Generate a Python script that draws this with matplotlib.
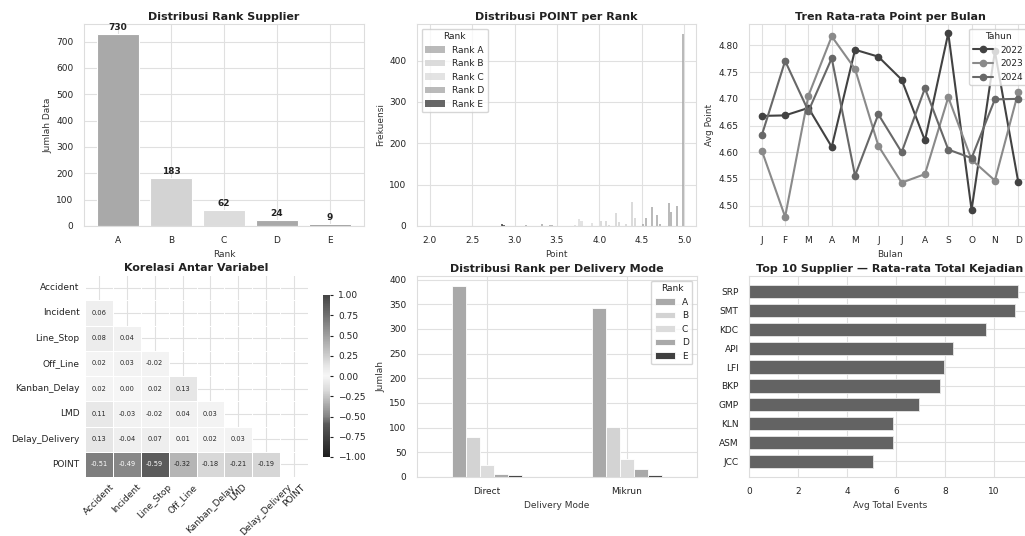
import numpy as np
import pandas as pd
import matplotlib
matplotlib.use('Agg')
import matplotlib.pyplot as plt
import seaborn as sns
from matplotlib.colors import LinearSegmentedColormap

# ---------------- data ----------------
ranks = ['A', 'B', 'C', 'D', 'E']
rank_counts = [730, 183, 62, 24, 9]

# histogram bars (Point value, frequency) per rank
hist_A_x = [4.51, 4.55, 4.62, 4.685, 4.72, 4.82, 4.85, 4.92, 4.99]
hist_A_n = [5, 20, 45, 27, 4, 56, 34, 49, 465]
hist_B_x = [4.02, 4.08, 4.11, 4.20, 4.23, 4.32, 4.385, 4.415]
hist_B_n = [12, 12, 3, 32, 10, 5, 58, 20]
hist_C_x = [3.71, 3.76, 3.79, 3.91]
hist_C_n = [2, 16, 11, 8]
hist_D_x = [3.13, 3.32, 3.42, 3.44]
hist_D_n = [3, 4, 2, 2]
hist_E_x = [2.85, 2.87]
hist_E_n = [4, 3]

months = ['J', 'F', 'M', 'A', 'M', 'J', 'J', 'A', 'S', 'O', 'N', 'D']
avg_2022 = [4.668, 4.669, 4.683, 4.610, 4.792, 4.779, 4.736, 4.622, 4.823, 4.492, 4.789, 4.545]
avg_2023 = [4.603, 4.479, 4.706, 4.817, 4.756, 4.612, 4.543, 4.559, 4.703, 4.586, 4.547, 4.712]
avg_2024 = [4.632, 4.771, 4.677, 4.776, 4.556, 4.671, 4.600, 4.720, 4.605, 4.589, 4.699, 4.700]

corr_vars = ['Accident', 'Incident', 'Line_Stop', 'Off_Line', 'Kanban_Delay',
             'LMD', 'Delay_Delivery', 'POINT']
corr_lower = [
    [],
    [0.06],
    [0.08, 0.04],
    [0.02, 0.03, -0.02],
    [0.02, 0.00, 0.02, 0.13],
    [0.11, -0.03, -0.02, 0.04, 0.03],
    [0.13, -0.04, 0.07, 0.01, 0.02, 0.03],
    [-0.51, -0.49, -0.59, -0.32, -0.18, -0.21, -0.19],
]

delivery_modes = ['Direct', 'Mikrun']
direct_counts = [388, 82, 25, 7, 4]
mikrun_counts = [342, 101, 37, 17, 5]

suppliers = ['SRP', 'SMT', 'KDC', 'API', 'LFI', 'BKP', 'GMP', 'KLN', 'ASM', 'JCC']
avg_events = [10.96, 10.87, 9.67, 8.33, 7.96, 7.78, 6.93, 5.89, 5.88, 5.08]

# ---------------- style ----------------
sns.set_style('whitegrid')
plt.rcParams['font.family'] = ['DejaVu Sans']
plt.rcParams.update({
    'axes.edgecolor': '#dddddd',
    'axes.linewidth': 0.8,
    'grid.color': '#e0e0e0',
    'grid.linewidth': 0.8,
    'xtick.labelsize': 6.5,
    'ytick.labelsize': 6.5,
    'xtick.major.pad': 4,
    'ytick.major.pad': 4,
    'axes.labelsize': 6.5,
    'axes.labelpad': 3,
    'axes.titlesize': 8,
    'axes.titleweight': 'bold',
    'axes.titlepad': 3,
    'legend.fontsize': 6.5,
    'legend.title_fontsize': 6.5,
    'text.color': '#222222',
    'axes.labelcolor': '#333333',
    'xtick.color': '#222222',
    'ytick.color': '#222222',
})

rank_colors = ['#a9a9a9', '#d3d3d3', '#dcdcdc', '#a9a9a9', '#404040']

W, H = 1025, 536
fig = plt.figure(figsize=(W / 100, H / 100), dpi=100)


def add_ax(l, t, r, b):
    return fig.add_axes([l / W, 1 - b / H, (r - l) / W, (b - t) / H])


# ---------------- panel 1 ----------------
ax1 = add_ax(84, 24, 364, 226)
x1 = np.arange(len(ranks))
ax1.bar(x1, rank_counts, width=0.8, color=rank_colors[:4] + ['#9a9a9a'],
        edgecolor='white', linewidth=0.8)
for xi, v in zip(x1, rank_counts):
    ax1.annotate(str(v), (xi, v), xytext=(0, 1), textcoords='offset points',
                 ha='center', va='bottom', fontsize=6.5, fontweight='bold')
ax1.set_xticks(x1)
ax1.set_xticklabels(ranks)
ax1.set_title('Distribusi Rank Supplier')
ax1.set_xlabel('Rank')
ax1.set_ylabel('Jumlah Data')
ax1.set_axisbelow(True)

# ---------------- panel 2 ----------------
ax2 = add_ax(417, 24, 696, 226)
hist_sets = [(hist_A_x, hist_A_n), (hist_B_x, hist_B_n), (hist_C_x, hist_C_n),
             (hist_D_x, hist_D_n), (hist_E_x, hist_E_n)]
for (hx, hn), r, c in zip(hist_sets, ranks, rank_colors):
    ax2.bar(hx, hn, width=0.024, color=c, alpha=0.8, label=f'Rank {r}',
            linewidth=0)
ax2.set_xlim(1.85, 5.14)
ax2.set_xticks([2.0, 2.5, 3.0, 3.5, 4.0, 4.5, 5.0])
ax2.set_title('Distribusi POINT per Rank')
ax2.set_xlabel('Point')
ax2.set_ylabel('Frekuensi')
ax2.legend(title='Rank', loc='upper left', handlelength=2.2)
ax2.set_axisbelow(True)

# ---------------- panel 3 ----------------
ax3 = add_ax(749, 24, 1031, 226)
xm = np.arange(1, 13)
for vals, yr, c in [(avg_2022, '2022', '#424242'), (avg_2023, '2023', '#8a8a8a'),
                    (avg_2024, '2024', '#686868')]:
    ax3.plot(xm, vals, marker='o', markersize=4.5, linewidth=1.5, color=c, label=yr)
ax3.set_xticks(xm)
ax3.set_xticklabels(months)
ax3.yaxis.set_major_formatter(matplotlib.ticker.FormatStrFormatter('%.2f'))
ax3.set_title('Tren Rata-rata Point per Bulan')
ax3.set_xlabel('Bulan')
ax3.set_ylabel('Avg Point')
ax3.legend(title='Tahun', loc='upper right', handlelength=2.2)

# ---------------- panel 4 (heatmap) ----------------
n = len(corr_vars)
corr = np.eye(n)
for i, row in enumerate(corr_lower):
    for j, v in enumerate(row):
        corr[i, j] = v
        corr[j, i] = v
corr_df = pd.DataFrame(corr, index=corr_vars, columns=corr_vars)
mask = np.triu(np.ones_like(corr, dtype=bool))

cmap = LinearSegmentedColormap.from_list('greydiv', [
    (0.0, '#1e1e1e'), (0.2, '#585858'), (0.25, '#848484'), (0.34, '#b4b4b4'),
    (0.41, '#d9d9d9'), (0.5, '#f6f6f6'), (0.565, '#e6e6e6'), (0.625, '#cdcdcd'),
    (0.75, '#a0a0a0'), (0.875, '#707070'), (1.0, '#444444')])

ax4 = add_ax(85, 275, 308, 477)
cax = add_ax(323, 295, 330, 457)
sns.heatmap(corr_df, mask=mask, annot=True, fmt='.2f', cmap=cmap, vmin=-1, vmax=1,
            center=0, linewidths=0.5, linecolor='white', ax=ax4, cbar_ax=cax,
            annot_kws={'size': 4.8})
ax4.set_title('Korelasi Antar Variabel')
plt.setp(ax4.get_xticklabels(), rotation=45, ha='center')
plt.setp(ax4.get_yticklabels(), rotation=0)
ax4.tick_params(length=0)
cax.tick_params(labelsize=6.5, length=2)

# ---------------- panel 5 ----------------
ax5 = add_ax(417, 276, 697, 477)
df5 = pd.DataFrame({r: [d, m] for r, d, m in zip(ranks, direct_counts, mikrun_counts)},
                   index=delivery_modes)
df5.plot(kind='bar', ax=ax5, color=rank_colors, width=0.5, rot=0,
         edgecolor='white', linewidth=0.6)
ax5.set_title('Distribusi Rank per Delivery Mode')
ax5.set_xlabel('Delivery Mode')
ax5.set_ylabel('Jumlah')
ax5.legend(title='Rank', loc='upper right', handlelength=2.2)
ax5.set_axisbelow(True)
ax5.grid(True, axis='both')

# ---------------- panel 6 ----------------
ax6 = add_ax(749, 276, 1031, 477)
y6 = np.arange(len(suppliers))
ax6.barh(y6, avg_events, height=0.7, color='#636363', edgecolor='#e8e8e8', linewidth=0.6)
ax6.set_yticks(y6)
ax6.set_yticklabels(suppliers)
ax6.invert_yaxis()
ax6.set_title('Top 10 Supplier — Rata-rata Total Kejadian')
ax6.set_xlabel('Avg Total Events')
ax6.set_axisbelow(True)

fig.savefig('out.png', dpi=100)
